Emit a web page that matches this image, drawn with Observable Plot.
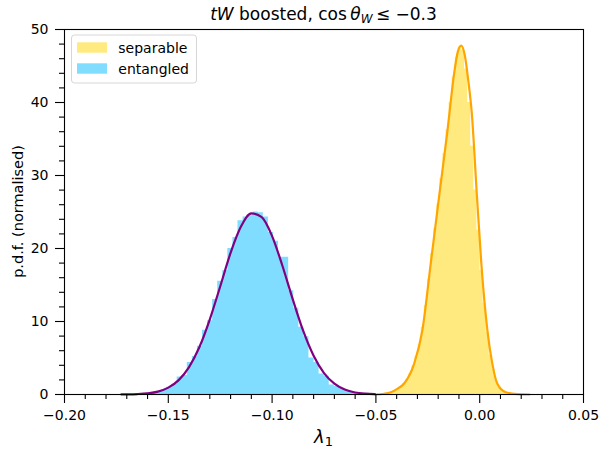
<!DOCTYPE html>
<html>
<head>
<meta charset="utf-8">
<script src="https://cdn.jsdelivr.net/npm/d3@7"></script>
<script src="https://cdn.jsdelivr.net/npm/@observablehq/plot@0.6"></script>
<style>
  html, body { margin: 0; padding: 0; background: white; }
  svg { display: block; }
</style>
</head>
<body>
<div id="chart"></div>
<script>
// ---------- data ----------
const xMajorTicks = [-0.20, -0.15, -0.10, -0.05, 0.00, 0.05];
const xMinorTicks = [-0.19,-0.18,-0.17,-0.16,-0.14,-0.13,-0.12,-0.11,-0.09,-0.08,-0.07,-0.06,-0.04,-0.03,-0.02,-0.01,0.01,0.02,0.03,0.04];
const yMajorTicks = [0, 10, 20, 30, 40, 50];
const yMinorTicks = [2,4,6,8,12,14,16,18,22,24,26,28,32,34,36,38,42,44,46,48];

const seriesNames = ["separable", "entangled"];

// entangled histogram: 50 bins
const entangledStart = -0.1726;
const entangledBinWidth = 0.002442;
const entangledHeights = [
  0.01,0.02,0.04,0.07,0.11,0.18,0.28,0.45,0.7,1.0,
  1.4,2.4,2.6,4.4,5.2,6.6,8.8,10.1,13.0,15.5,
  17.0,20.0,21.5,23.8,24.3,24.6,25.0,24.9,24.3,22.2,
  21.0,18.8,18.8,14.2,11.8,9.2,7.9,5.0,4.4,2.8,
  2.5,1.3,1.1,0.8,0.5,0.35,0.22,0.14,0.08,0.05
];

// separable histogram: 50 bins
const separableStart = -0.0505;
const separableBinWidth = 0.00149;
const separableHeights = [
  0.02,0.05,0.1,0.15,0.22,0.35,0.55,0.8,1.1,1.5,
  2.1,2.9,3.9,5.2,6.9,9.2,12.2,15.8,19.3,22.7,
  26.1,29.6,33.0,36.3,40.0,43.5,46.2,47.6,47.2,44.6,
  40.0,34.0,28.0,22.5,17.0,12.5,8.5,5.4,3.4,1.8,
  1.0,0.55,0.3,0.18,0.1,0.06,0.04,0.02,0.01,0.01
];

// fitted curves
const entangledFitX = [-0.1726,-0.170,-0.165,-0.160,-0.155,-0.150,-0.145,-0.140,-0.135,-0.130,-0.125,-0.120,-0.115,-0.110,-0.105,-0.100,-0.095,-0.090,-0.085,-0.080,-0.075,-0.070,-0.065,-0.060,-0.055,-0.0505];
const entangledFitY = [0.01,0.02,0.06,0.16,0.40,0.94,1.97,3.76,6.5,10.3,14.8,19.4,23.0,24.8,24.3,21.7,17.6,13.0,8.7,5.3,2.93,1.48,0.68,0.28,0.11,0.04];

const separableFitX = [-0.0505,-0.0460,-0.0428,-0.0395,-0.0364,-0.0316,-0.0276,-0.0236,-0.0196,-0.0155,-0.0123,-0.0105,-0.0089,-0.0072,-0.0055,-0.0038,-0.0014,0.0008,0.0037,0.0061,0.0085,0.0125,0.0180,0.0240];
const separableFitY = [0.0,0.1,0.3,0.8,1.5,4.2,8.8,17.9,27.0,36.2,44.0,47.0,47.8,46.5,43.0,38.5,27.5,17.9,8.8,4.2,1.46,0.3,0.05,0.0];

const colors = {separable: "#FFEA80", entangled: "#80DDFF"};
const lineColors = {separable: "#FFA500", entangled: "#800080"};

// ---------- tables ----------
// step outline: left edge of each bin with its height, plus the right edge of the last bin
const stepsOf = (start, w, hs) => hs.map((h, i) => ({x: start + i * w, y: h}))
  .concat([{x: start + hs.length * w, y: hs[hs.length - 1]}]);
const entangledSteps = stepsOf(entangledStart, entangledBinWidth, entangledHeights);
const separableSteps = stepsOf(separableStart, separableBinWidth, separableHeights);
const entangledFit = entangledFitX.map((x, i) => ({x, y: entangledFitY[i]}));
const separableFit = separableFitX.map((x, i) => ({x, y: separableFitY[i]}));

const W = 599, H = 450;
const mL = 64, mR = 16, mT = 29, mB = 56;
const fmt = d3.format(".2f");

const svg = Plot.plot({
  width: W, height: H,
  marginLeft: mL, marginRight: mR, marginTop: mT, marginBottom: mB,
  style: {fontFamily: "DejaVu Sans, sans-serif", fontSize: "14px", background: "white", color: "black"},
  x: {domain: [-0.2, 0.05]},
  y: {domain: [0, 50]},
  marks: [
    Plot.areaY(separableSteps, {x: "x", y: "y", fill: colors.separable, curve: "step-after"}),
    Plot.areaY(entangledSteps, {x: "x", y: "y", fill: colors.entangled, curve: "step-after"}),
    Plot.line(separableFit, {x: "x", y: "y", stroke: lineColors.separable, strokeWidth: 2.2, curve: "monotone-x"}),
    Plot.line(entangledFit, {x: "x", y: "y", stroke: lineColors.entangled, strokeWidth: 2.2, curve: "monotone-x"}),
    Plot.axisX(xMajorTicks, {tickSize: 9, tickPadding: 7, tickFormat: fmt, label: null, fontSize: 14, strokeWidth: 1.1}),
    Plot.axisX(xMinorTicks, {tickSize: 5, tickFormat: () => "", label: null, strokeWidth: 1.1}),
    Plot.axisY(yMajorTicks, {tickSize: 9, tickPadding: 7, tickFormat: d3.format("d"), label: null, fontSize: 14, strokeWidth: 1.1}),
    Plot.axisY(yMinorTicks, {tickSize: 5, tickFormat: () => "", label: null, strokeWidth: 1.1}),
    Plot.frame({stroke: "black", strokeWidth: 1.1})
  ]
});

const s = d3.select(svg);
const cx = mL + (W - mL - mR) / 2;

// title
const title = s.append("text")
  .attr("x", cx).attr("y", 19.5)
  .attr("text-anchor", "middle")
  .style("font-family", "DejaVu Sans, sans-serif")
  .style("font-size", "17px")
  .attr("fill", "black");
title.append("tspan").attr("font-style", "italic").text("tW");
title.append("tspan").text(" boosted, cos\u2009");
title.append("tspan").attr("font-style", "italic").text("\u03B8");
title.append("tspan").attr("font-style", "italic").attr("font-size", "12px").attr("dy", 3).text("W");
title.append("tspan").attr("dy", -3).text("\u2009\u2264 \u22120.3");

// x label
const xl = s.append("text")
  .attr("x", cx).attr("y", 443)
  .attr("text-anchor", "middle")
  .style("font-family", "DejaVu Sans, sans-serif")
  .style("font-size", "18px")
  .attr("fill", "black");
xl.append("tspan").attr("font-style", "italic").text("\u03BB");
xl.append("tspan").attr("font-size", "13px").attr("dy", 3).text("1");

// y label
s.append("text")
  .attr("transform", `translate(23,${mT + (H - mT - mB) / 2}) rotate(-90)`)
  .attr("text-anchor", "middle")
  .style("font-family", "DejaVu Sans, sans-serif")
  .style("font-size", "14.5px")
  .attr("fill", "black")
  .text("p.d.f. (normalised)");

// legend
const lg = s.append("g");
lg.append("rect").attr("x", 71.5).attr("y", 35).attr("width", 125).attr("height", 48)
  .attr("rx", 3).attr("fill", "white").attr("fill-opacity", 0.8)
  .attr("stroke", "#d6d6d6").attr("stroke-width", 1);
seriesNames.forEach((name, i) => {
  const y0 = 42.3 + i * 21;
  lg.append("rect").attr("x", 77).attr("y", y0).attr("width", 30).attr("height", 10.4).attr("fill", colors[name]);
  lg.append("text").attr("x", 118.3).attr("y", y0 + 10.2)
    .attr("text-anchor", "start")
    .style("font-family", "DejaVu Sans, sans-serif").style("font-size", "14px")
    .attr("fill", "black").text(name);
});

document.getElementById("chart").appendChild(svg);
</script>
</body>
</html>
